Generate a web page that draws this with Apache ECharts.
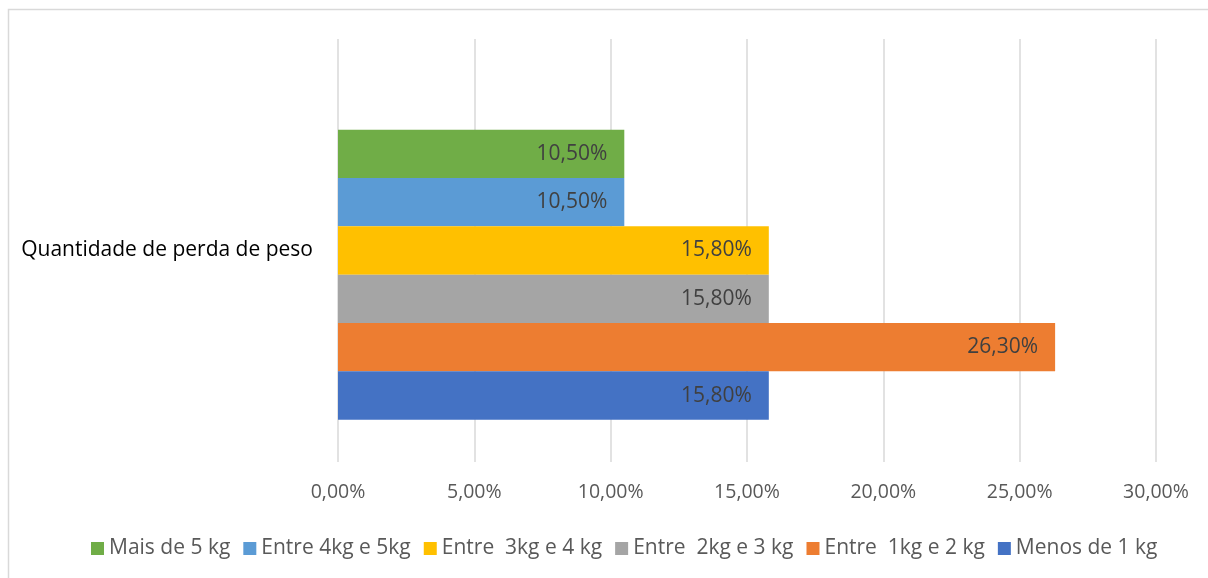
<!DOCTYPE html>
<html>
<head>
<meta charset="utf-8">
<script src="https://cdn.jsdelivr.net/npm/echarts@6/dist/echarts.min.js"></script>
<style>
html,body{margin:0;padding:0;background:#fff;}
#c{width:1208px;height:578px;}
</style>
</head>
<body>
<div id="c"></div>
<script>
var categories = ['Quantidade de perda de peso'];
// listed top bar to bottom bar (same order as the legend)
var seriesNames = ['Mais de 5 kg', 'Entre 4kg e 5kg', 'Entre  3kg e 4 kg', 'Entre  2kg e 3 kg', 'Entre  1kg e 2 kg', 'Menos de 1 kg'];
var seriesValues = [10.5, 10.5, 15.8, 15.8, 26.3, 15.8];
var seriesColors = ['#70AD47', '#5B9BD5', '#FFC000', '#A5A5A5', '#ED7D31', '#4472C4'];
var xTicks = {min: 0, max: 30, interval: 5};

function pct(v){ return v.toFixed(2).replace('.', ',') + '%'; }

var FONT = 'Open Sans';
// empty spacer slot at the top, as in the original
var series = [{name: '_spacer', type: 'bar', data: ['-'], barGap: 0, barCategoryGap: '20%'}];
seriesNames.forEach(function(n, i){
  series.push({
    name: n, type: 'bar', data: [seriesValues[i]],
    itemStyle: {color: seriesColors[i]},
    barGap: 0, barCategoryGap: '20%',
    label: {show: true, position: 'insideRight', distance: 17, color: '#404040', fontFamily: FONT, fontSize: 21,
      formatter: function(p){ return pct(p.value); }}
  });
});

var chart = echarts.init(document.getElementById('c'), null, {renderer: 'canvas'});
chart.setOption({
  animation: false,
  backgroundColor: '#fff',
  graphic: [{type: 'rect', shape: {x: 8.5, y: 9.5, width: 1220, height: 600}, style: {fill: 'none', stroke: '#d9d9d9', lineWidth: 1.5}, z: -1}],
  grid: {left: 338, right: 52, top: 39, bottom: 116},
  xAxis: {
    type: 'value', min: xTicks.min, max: xTicks.max, interval: xTicks.interval,
    axisLine: {show: false}, axisTick: {show: false},
    splitLine: {lineStyle: {color: '#d9d9d9', width: 1.5}},
    axisLabel: {color: '#595959', fontFamily: FONT, fontSize: 19.5, margin: 20, formatter: function(v){ return pct(v); }}
  },
  yAxis: {
    type: 'category', data: categories,
    axisLine: {show: false}, axisTick: {show: false},
    axisLabel: {color: '#000', fontFamily: FONT, fontSize: 21, margin: 25}
  },
  legend: {
    data: seriesNames, top: 533, left: 86, itemWidth: 13, itemHeight: 13, itemGap: 13,
    icon: 'rect',
    textStyle: {color: '#595959', fontFamily: FONT, fontSize: 21}
  },
  series: series
});
</script>
</body>
</html>
